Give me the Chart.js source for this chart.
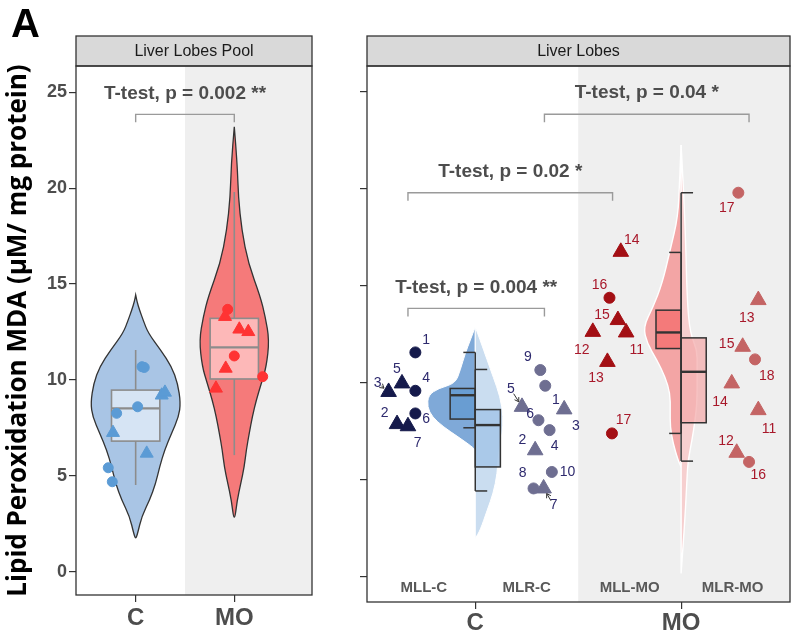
<!DOCTYPE html>
<html>
<head>
<meta charset="utf-8">
<title>Lipid peroxidation MDA</title>
<script src="https://cdn.jsdelivr.net/npm/chart.js@4.4.1/dist/chart.umd.min.js"></script>
<style>
  html, body { margin: 0; padding: 0; background: #fff; }
  #page { position: relative; width: 791px; height: 635px; overflow: hidden; }
  #poolChart { position: absolute; left: 0; top: 0; }
  #lobeChart { position: absolute; left: 360px; top: 0; }
  #tag { position: absolute; left: 11px; top: 3px; font: bold 40px "Liberation Sans", Arial, sans-serif; color: #000; line-height: 1; }
</style>
</head>
<body>
<div id="page">
  <canvas id="poolChart" width="360" height="635"></canvas>
  <canvas id="lobeChart" width="431" height="635"></canvas>
  <div id="tag">A</div>
</div>
<script>
const FONT = '"Liberation Sans", Arial, Helvetica, sans-serif';

// ---------- data ----------
const groups = ['C', 'MO'];
const yTicks = [0, 5, 10, 15, 20, 25];
const yTitle = 'Lipid Peroxidation MDA (µM/ mg protein)';

// panel 1: liver lobes pool
const poolC_x = [1.064, 1.087, 1.02, 0.807, 1.264, 1.297, 0.77, 1.112, 0.722, 0.763];
const poolC_y = [10.69, 10.65, 8.6, 8.26, 9.2, 9.35, 7.25, 6.17, 5.42, 4.69];
const poolC_shape = ['circle', 'circle', 'circle', 'circle', 'triangle', 'triangle', 'triangle', 'triangle', 'circle', 'circle'];
const poolMO_x = [1.933, 1.906, 2.051, 2.142, 2.0, 1.913, 2.288, 1.814];
const poolMO_y = [13.68, 13.3, 12.64, 12.51, 11.25, 10.6, 10.17, 9.56];
const poolMO_shape = ['circle', 'triangle', 'triangle', 'triangle', 'circle', 'triangle', 'circle', 'triangle'];

// box stats: min, q1, median, q3, max
const poolC_box = [4.52, 6.81, 8.52, 9.47, 11.56];
const poolMO_box = [6.08, 10.05, 11.7, 13.21, 19.8];

// violin outline: y level and half width (x units)
const poolC_vy = [14.43, 14.1, 13.64, 13.12, 12.44, 11.56, 10.69, 9.82, 8.8, 8.08, 7.23, 6.35, 5.47, 4.6, 3.74, 2.87, 2.0, 1.69];
const poolC_vw = [0, 0.012, 0.04, 0.076, 0.127, 0.254, 0.365, 0.426, 0.456, 0.436, 0.365, 0.294, 0.243, 0.203, 0.142, 0.061, 0.02, 0];
const poolMO_vy = [23.2, 21.3, 19.55, 17.8, 16.08, 14.34, 13.3, 12.08, 10.69, 9.82, 8.95, 8.08, 7.23, 6.35, 5.47, 4.6, 3.74, 2.55];
const poolMO_vw = [0, 0.03, 0.041, 0.076, 0.142, 0.264, 0.314, 0.355, 0.325, 0.274, 0.223, 0.183, 0.152, 0.122, 0.101, 0.066, 0.03, 0];

const poolTest_x1 = [1];
const poolTest_x2 = [2];
const poolTest_y = [23.85];
const poolTest_text = ['T-test, p = 0.002 **'];

// panel 2: liver lobes (MLL = left lobe, MLR = right lobe)
const lobeNames = ['MLL-C', 'MLR-C', 'MLL-MO', 'MLR-MO'];
const lobeName_x = [0.75, 1.25, 1.75, 2.25];

const mllC_id = [1, 2, 3, 4, 5, 6, 7];
const mllC_x = [0.709, 0.62, 0.579, 0.709, 0.644, 0.709, 0.673];
const mllC_y = [11.55, 7.85, 9.51, 9.57, 9.95, 8.4, 7.74];
const mllC_shape = ['circle', 'triangle', 'triangle', 'circle', 'triangle', 'circle', 'triangle'];

const mlrC_id = [1, 2, 3, 4, 5, 6, 7, 8, 9, 10];
const mlrC_x = [1.34, 1.291, 1.432, 1.361, 1.227, 1.307, 1.332, 1.283, 1.316, 1.372];
const mlrC_y = [9.83, 6.5, 8.61, 7.54, 8.74, 8.05, 4.53, 4.53, 10.64, 5.38];
const mlrC_shape = ['circle', 'triangle', 'triangle', 'circle', 'triangle', 'circle', 'triangle', 'circle', 'circle', 'circle'];

const mllMO_id = [11, 12, 13, 14, 15, 16, 17];
const mllMO_x = [1.733, 1.571, 1.642, 1.707, 1.693, 1.652, 1.664];
const mllMO_y = [12.58, 12.61, 11.06, 16.74, 13.22, 14.37, 7.37];
const mllMO_shape = ['triangle', 'triangle', 'triangle', 'triangle', 'triangle', 'circle', 'circle'];

const mlrMO_id = [11, 12, 13, 14, 15, 16, 17, 18];
const mlrMO_x = [2.375, 2.27, 2.375, 2.246, 2.299, 2.33, 2.278, 2.359];
const mlrMO_y = [8.57, 6.37, 14.25, 9.95, 11.84, 5.9, 19.79, 11.19];
const mlrMO_shape = ['triangle', 'triangle', 'triangle', 'triangle', 'triangle', 'circle', 'circle', 'circle'];

const mllC_box = [7.66, 8.11, 9.34, 9.69, 11.55];
const mlrC_box = [4.4, 5.64, 7.8, 8.6, 10.67];
const mllMO_box = [7.37, 11.75, 12.58, 13.73, 16.71];
const mlrMO_box = [5.94, 7.92, 10.55, 12.3, 19.79];

const mllC_vy = [12.87, 12.18, 11.5, 10.63, 9.95, 9.69, 9.34, 8.74, 8.22, 7.71, 7.19, 6.68, 6.5];
const mllC_vw = [0, 0.024, 0.049, 0.073, 0.097, 0.18, 0.228, 0.233, 0.209, 0.155, 0.083, 0.015, 0];
const mlrC_vy = [12.87, 12.18, 11.15, 10.29, 9.26, 8.22, 7.37, 6.33, 5.3, 4.27, 3.41, 2.37, 1.95];
const mlrC_vw = [0, 0.024, 0.058, 0.087, 0.121, 0.136, 0.131, 0.112, 0.107, 0.087, 0.058, 0.024, 0];
const mllMO_vy = [22.25, 20.5, 18.55, 16.83, 15.11, 13.9, 12.87, 12.01, 11.15, 10.29, 9.43, 8.57, 7.71, 6.85, 5.99, 5.64];
const mllMO_vw = [0, 0.007, 0.015, 0.053, 0.092, 0.136, 0.184, 0.165, 0.117, 0.078, 0.053, 0.053, 0.053, 0.039, 0.015, 0];
const mlrMO_vy = [22.25, 18.55, 14.25, 12.53, 11.67, 10.8, 9.09, 8.05, 7.02, 5.99, 5.13, 3.0, 0.14];
const mlrMO_vw = [0, 0.019, 0.029, 0.044, 0.078, 0.078, 0.078, 0.068, 0.053, 0.034, 0.029, 0.019, 0];

const lobeTest_x1 = [0.673, 0.673, 1.336];
const lobeTest_x2 = [1.336, 1.667, 2.33];
const lobeTest_y = [13.82, 19.79, 23.84];
const lobeTest_text = ['T-test, p = 0.004 **', 'T-test, p = 0.02 *', 'T-test, p = 0.04 *'];

// label placement next to each point (px), like ggrepel
const mllC_dx = [10.7, -12.4, -11, 10.7, -5, 10.7, 9.6];
const mllC_dy = [-12.3, -10.7, -9, -12.4, -14, 5.7, 17.3];
const mllC_arrow = [0, 0, 1, 0, 0, 0, 0];
const mlrC_dx = [10.7, -12.7, 11.7, 5, -11, -8.3, 10, -11, -12.3, 15.6];
const mlrC_dy = [14.3, -10, 16.7, 16, -17.4, -5.7, 16.7, -15, -12.7, 0];
const mlrC_arrow = [0, 0, 0, 0, 1, 0, 1, 0, 0, 0];
const mllMO_dx = [10.7, -11, -11.3, 11, -16, -10, 11.6];
const mllMO_dy = [17.7, 18.3, 16.6, -11.7, -5, -12.7, -13.3];
const mlrMO_dx = [10.7, -10.7, -11.6, -11.7, -16, 9.3, -11.6, 11.7];
const mlrMO_dy = [19.3, -12, 18.3, 18.4, -2.7, 13.3, 15.6, 16.7];

// ---------- drawing helpers ----------
function smooth(ctx, p) {
  ctx.moveTo(p[0][0], p[0][1]);
  for (let i = 1; i < p.length - 1; i++) {
    const mx = (p[i][0] + p[i + 1][0]) / 2;
    const my = (p[i][1] + p[i + 1][1]) / 2;
    ctx.quadraticCurveTo(p[i][0], p[i][1], mx, my);
  }
  ctx.lineTo(p[p.length - 1][0], p[p.length - 1][1]);
}

// side: 0 full violin, -1 left half, 1 right half
function drawViolin(chart, cx, vy, vw, side, fill, stroke, lw) {
  const { ctx, scales: { x, y } } = chart;
  const right = vy.map((v, i) => [x.getPixelForValue(cx + vw[i]), y.getPixelForValue(v)]);
  const left = vy.map((v, i) => [x.getPixelForValue(cx - vw[i]), y.getPixelForValue(v)]);
  ctx.beginPath();
  if (side === 0) smooth(ctx, right.concat(left.slice().reverse().slice(1)));
  else smooth(ctx, side > 0 ? right : left);
  ctx.closePath();
  ctx.fillStyle = fill;
  ctx.fill();
  ctx.lineWidth = lw;
  ctx.strokeStyle = stroke;
  ctx.stroke();
}

function drawBox(chart, x0, x1, st, fill, stroke, lw, medLw) {
  const { ctx, scales: { x, y } } = chart;
  const px0 = x.getPixelForValue(x0), px1 = x.getPixelForValue(x1);
  const q1 = y.getPixelForValue(st[1]), q3 = y.getPixelForValue(st[3]), md = y.getPixelForValue(st[2]);
  ctx.fillStyle = fill;
  ctx.fillRect(px0, q3, px1 - px0, q1 - q3);
  ctx.lineWidth = lw;
  ctx.strokeStyle = stroke;
  ctx.strokeRect(px0, q3, px1 - px0, q1 - q3);
  ctx.lineWidth = medLw;
  ctx.beginPath();
  ctx.moveTo(px0, md);
  ctx.lineTo(px1, md);
  ctx.stroke();
}

function vline(chart, xv, y0, y1, color, lw) {
  const { ctx, scales: { x, y } } = chart;
  const px = x.getPixelForValue(xv);
  ctx.beginPath();
  ctx.moveTo(px, y.getPixelForValue(y0));
  ctx.lineTo(px, y.getPixelForValue(y1));
  ctx.strokeStyle = color;
  ctx.lineWidth = lw;
  ctx.stroke();
}

function hline(chart, x0, x1, yv, color, lw) {
  const { ctx, scales: { x, y } } = chart;
  const py = y.getPixelForValue(yv);
  ctx.beginPath();
  ctx.moveTo(x.getPixelForValue(x0), py);
  ctx.lineTo(x.getPixelForValue(x1), py);
  ctx.strokeStyle = color;
  ctx.lineWidth = lw;
  ctx.stroke();
}

function drawTests(chart, x1s, x2s, ys, texts) {
  const { ctx, scales: { x, y } } = chart;
  for (let i = 0; i < ys.length; i++) {
    const a = x.getPixelForValue(x1s[i]), b = x.getPixelForValue(x2s[i]), py = y.getPixelForValue(ys[i]);
    ctx.beginPath();
    ctx.moveTo(a, py + 8);
    ctx.lineTo(a, py);
    ctx.lineTo(b, py);
    ctx.lineTo(b, py + 8);
    ctx.strokeStyle = '#9A9A9A';
    ctx.lineWidth = 1.4;
    ctx.stroke();
    ctx.fillStyle = '#4D4D4D';
    ctx.font = 'bold 19px ' + FONT;
    ctx.textAlign = 'center';
    ctx.textBaseline = 'middle';
    ctx.fillText(texts[i], (a + b) / 2, py - 21);
  }
}

function drawFrame(chart, stripText) {
  const { ctx, chartArea: a } = chart;
  ctx.save();
  ctx.fillStyle = '#D9D9D9';
  ctx.fillRect(a.left, 36, a.width, a.top - 36);
  ctx.strokeStyle = '#333';
  ctx.lineWidth = 1.3;
  ctx.strokeRect(a.left, 36, a.width, a.top - 36);
  ctx.strokeRect(a.left, a.top, a.width, a.height);
  ctx.fillStyle = '#1A1A1A';
  ctx.font = '16px ' + FONT;
  ctx.textAlign = 'center';
  ctx.textBaseline = 'middle';
  ctx.fillText(stripText, (a.left + a.right) / 2, (36 + a.top) / 2 + 1);
  ctx.restore();
}

function shadeRight(chart) {
  const { ctx, chartArea: a, scales: { x } } = chart;
  const gx = x.getPixelForValue(1.5);
  ctx.fillStyle = '#EFEFEF';
  ctx.fillRect(gx, a.top, a.right - gx, a.height);
}

function points(xs, ys, shape, color, rc, rt) {
  return {
    data: ys.map((v, i) => ({ x: xs[i], y: v })),
    pointStyle: shape,
    pointRadius: shape.map(s => s === 'triangle' ? rt : rc),
    backgroundColor: color,
    borderColor: color,
    borderWidth: 1,
    showLine: false
  };
}

function scales(o) {
  return {
    x: {
      type: 'linear', min: o.xMin, max: o.xMax,
      afterBuildTicks: s => { s.ticks = groups.map((g, i) => ({ value: i + 1 })); },
      afterFit: s => { s.height = o.xHeight; s.paddingLeft = 0; s.paddingRight = 0; },
      border: { display: false },
      grid: { drawOnChartArea: false, tickLength: 7, color: '#333', lineWidth: 1.2 },
      ticks: { callback: v => groups[v - 1], color: '#4D4D4D', padding: o.xPad, maxRotation: 0,
               font: { family: FONT, size: 24, weight: 'bold' } }
    },
    y: {
      type: 'linear', min: o.yMin, max: o.yMax,
      afterBuildTicks: s => { s.ticks = yTicks.map(v => ({ value: v })); },
      afterFit: s => { s.width = o.yWidth; s.paddingTop = 0; s.paddingBottom = 0; },
      border: { display: false },
      grid: { drawOnChartArea: false, tickLength: 7, color: '#333', lineWidth: 1.2 },
      ticks: { display: o.yLabels, color: '#4D4D4D', padding: 2,
               font: { family: FONT, size: 18, weight: 'bold' } },
      title: o.yLabels ? {
        display: true, text: yTitle, color: '#000',
        font: { family: '"Open Sans", ' + FONT, size: 26, weight: 'bold' },
        padding: { top: 3, bottom: 0 }
      } : { display: false }
    }
  };
}

// ---------- panel 1 ----------
const poolPanel = {
  id: 'poolPanel',
  beforeDatasetsDraw(chart) {
    const { ctx, chartArea: a } = chart;
    ctx.save();
    ctx.beginPath();
    ctx.rect(a.left, a.top, a.width, a.height);
    ctx.clip();
    shadeRight(chart);
    drawViolin(chart, 1, poolC_vy, poolC_vw, 0, '#A9C5E5', '#333', 1.3);
    drawViolin(chart, 2, poolMO_vy, poolMO_vw, 0, '#F57A7A', '#333', 1.3);
    [[1, poolC_box, 'rgba(230,238,248,0.75)'], [2, poolMO_box, 'rgba(255,200,200,0.8)']].forEach(([cx, st, fill]) => {
      vline(chart, cx, st[0], st[1], '#8C8C8C', 1.6);
      vline(chart, cx, st[3], st[4], '#8C8C8C', 1.6);
      drawBox(chart, cx - 0.245, cx + 0.245, st, fill, '#8C8C8C', 1.6, 2.2);
    });
    ctx.restore();
  },
  afterDatasetsDraw(chart) {
    drawTests(chart, poolTest_x1, poolTest_x2, poolTest_y, poolTest_text);
    drawFrame(chart, 'Liver Lobes Pool');
  }
};

new Chart(document.getElementById('poolChart'), {
  type: 'scatter',
  data: {
    datasets: [
      points(poolC_x, poolC_y, poolC_shape, '#5B9BD5', 5, 7.5),
      points(poolMO_x, poolMO_y, poolMO_shape, '#FF3333', 5, 7.5)
    ]
  },
  options: {
    responsive: false, animation: false, events: [],
    layout: { autoPadding: false, padding: { top: 66, right: 48, left: 0, bottom: 0 } },
    plugins: { legend: { display: false }, tooltip: { enabled: false } },
    scales: scales({ xMin: 0.395, xMax: 2.788, yMin: -1.215, yMax: 26.37, xHeight: 40, yWidth: 76, xPad: 2, yLabels: true })
  },
  plugins: [poolPanel]
});

// ---------- panel 2 ----------
function labelled(ds, ids, dx, dy, arrow, color) {
  ds.ids = ids; ds.dx = dx; ds.dy = dy; ds.arrow = arrow; ds.labColor = color;
  return ds;
}

const lobePanel = {
  id: 'lobePanel',
  beforeDatasetsDraw(chart) {
    const { ctx, chartArea: a } = chart;
    ctx.save();
    ctx.beginPath();
    ctx.rect(a.left, a.top, a.width, a.height);
    ctx.clip();
    shadeRight(chart);
    drawViolin(chart, 1, mllC_vy, mllC_vw, -1, '#7FA9D8', '#FFFFFF', 1);
    drawViolin(chart, 1, mlrC_vy, mlrC_vw, 1, '#CADDF0', '#FFFFFF', 1);
    drawViolin(chart, 2, mllMO_vy, mllMO_vw, -1, '#F3A5A5', '#FFFFFF', 1.4);
    drawViolin(chart, 2, mlrMO_vy, mlrMO_vw, 1, '#F6CFCF', '#FFFFFF', 1.4);
    const half = 0.122, cap = 0.058;
    [[1, -1, mllC_box, '#699DD2'], [1, 1, mlrC_box, 'rgba(165,198,232,0.85)'],
     [2, -1, mllMO_box, '#F47A7A'], [2, 1, mlrMO_box, 'rgba(244,168,168,0.7)']].forEach(([cx, side, st, fill]) => {
      const x0 = side < 0 ? cx - half : cx, x1 = side < 0 ? cx : cx + half;
      drawBox(chart, x0, x1, st, fill, '#333', 1.5, 2.4);
      vline(chart, cx, st[0], st[4], '#333', 1.5);
      hline(chart, cx, cx + side * cap, st[0], '#333', 1.5);
      hline(chart, cx, cx + side * cap, st[4], '#333', 1.5);
    });
    ctx.restore();
  },
  afterDatasetsDraw(chart) {
    const { ctx, chartArea: a, scales: { x } } = chart;
    ctx.save();
    ctx.font = '14px ' + FONT;
    ctx.textAlign = 'center';
    ctx.textBaseline = 'middle';
    chart.data.datasets.forEach((ds, di) => {
      const meta = chart.getDatasetMeta(di);
      ds.ids.forEach((id, i) => {
        const p = meta.data[i];
        const lx = p.x + ds.dx[i], ly = p.y + ds.dy[i];
        ctx.fillStyle = ds.labColor;
        ctx.fillText(String(id), lx, ly);
        if (ds.arrow[i]) {
          const vx = p.x - lx, vy = p.y - ly, len = Math.hypot(vx, vy);
          const ux = vx / len, uy = vy / len;
          const sx = lx + ux * 5, sy = ly + uy * 5, ex = p.x - ux * 6, ey = p.y - uy * 6;
          ctx.strokeStyle = '#333';
          ctx.lineWidth = 1;
          ctx.beginPath();
          ctx.moveTo(sx, sy);
          ctx.lineTo(ex, ey);
          ctx.moveTo(ex - ux * 4 - uy * 2.5, ey - uy * 4 + ux * 2.5);
          ctx.lineTo(ex, ey);
          ctx.lineTo(ex - ux * 4 + uy * 2.5, ey - uy * 4 - ux * 2.5);
          ctx.stroke();
        }
      });
    });
    ctx.fillStyle = '#595959';
    ctx.font = 'bold 15px ' + FONT;
    lobeNames.forEach((n, i) => ctx.fillText(n, x.getPixelForValue(lobeName_x[i]), a.bottom - 14));
    ctx.restore();
    drawTests(chart, lobeTest_x1, lobeTest_x2, lobeTest_y, lobeTest_text);
    drawFrame(chart, 'Liver Lobes');
  }
};

new Chart(document.getElementById('lobeChart'), {
  type: 'scatter',
  data: {
    datasets: [
      labelled(points(mllC_x, mllC_y, mllC_shape, '#151A4B', 5.5, 9), mllC_id, mllC_dx, mllC_dy, mllC_arrow, '#2E2A6E'),
      labelled(points(mlrC_x, mlrC_y, mlrC_shape, '#6E6E91', 5.5, 9), mlrC_id, mlrC_dx, mlrC_dy, mlrC_arrow, '#2E2A6E'),
      labelled(points(mllMO_x, mllMO_y, mllMO_shape, '#A30F14', 5.5, 9), mllMO_id, mllMO_dx, mllMO_dy, mllMO_id.map(() => 0), '#A8182A'),
      labelled(points(mlrMO_x, mlrMO_y, mlrMO_shape, '#C46464', 5.5, 9), mlrMO_id, mlrMO_dx, mlrMO_dy, mlrMO_id.map(() => 0), '#A8182A')
    ]
  },
  options: {
    responsive: false, animation: false, events: [],
    layout: { autoPadding: false, padding: { top: 66, right: 1, left: 0, bottom: 0 } },
    plugins: { legend: { display: false }, tooltip: { enabled: false } },
    scales: scales({ xMin: 0.474, xMax: 2.529, yMin: -1.33, yMax: 26.33, xHeight: 33, yWidth: 7, xPad: 0, yLabels: false })
  },
  plugins: [lobePanel]
});
</script>
</body>
</html>
